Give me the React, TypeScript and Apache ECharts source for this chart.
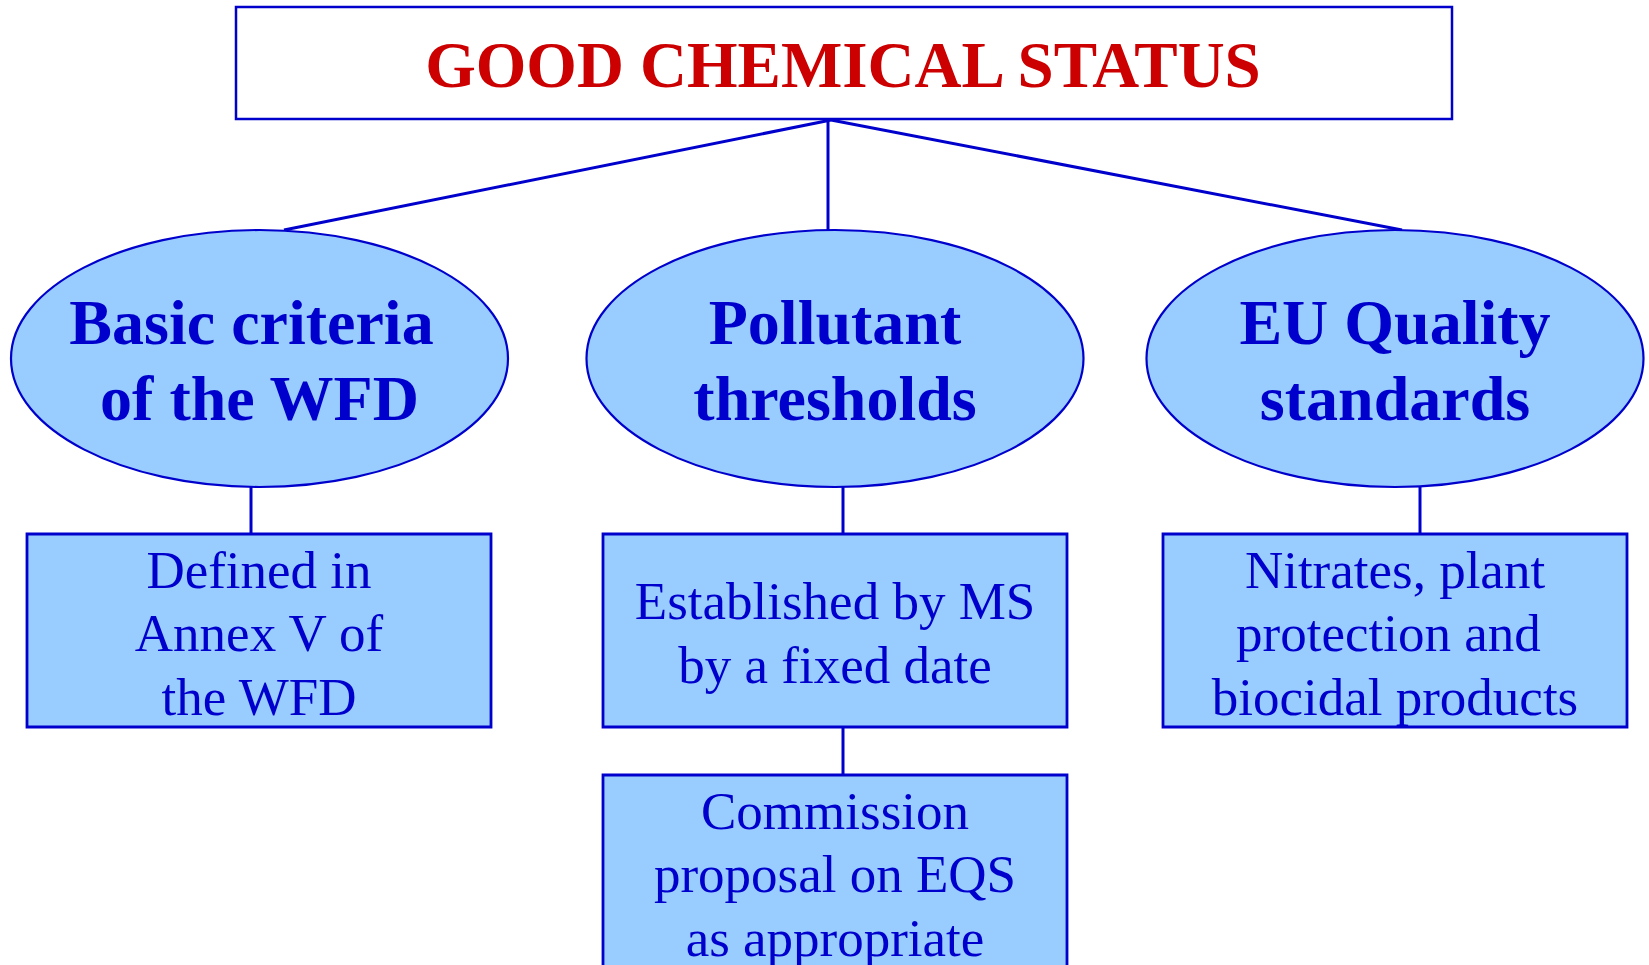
import React, { useEffect, useRef } from "react";
import * as echarts from "echarts";

const titleText = "GOOD CHEMICAL STATUS";
// trailing spaces are part of the original labels (they shift the centring)
const ellipseLabels = [
  ["Basic criteria ", "of the WFD"],
  ["Pollutant", "thresholds"],
  ["EU Quality", "standards"],
];
const boxLabels = [
  ["Defined in", "Annex V of", "the WFD"],
  ["Established by MS", "by a fixed date"],
  ["Nitrates, plant", "protection and ", "biocidal products"],
];
const subBoxLabel = ["Commission", "proposal on EQS", "as appropriate"];

const BLUE = "#0000CC";
const FILL = "#99CCFF";
const RED = "#CC0000";
const FONT = "'Liberation Serif', 'Times New Roman', serif";

function lineTexts(
  lines: string[],
  cx: number,
  cy: number,
  lineHeight: number,
  fontSize: number,
  bold: boolean
) {
  const n = lines.length;
  return lines.map((raw, k) => {
    const trimmed = raw.replace(/\s+$/, "");
    const trailing = raw.length - trimmed.length;
    return {
      type: "text",
      x: cx - (trailing * 0.25 * fontSize) / 2,
      y: cy + (k - (n - 1) / 2) * lineHeight,
      style: {
        text: trimmed,
        fill: BLUE,
        font: `${bold ? "bold " : ""}${fontSize}px ${FONT}`,
        textAlign: "center",
        textVerticalAlign: "middle",
      },
      z: 3,
    };
  });
}

export default function App() {
  const ref = useRef<HTMLDivElement>(null);
  useEffect(() => {
    document.body.style.margin = "0";
    const chart = echarts.init(ref.current!, null, { renderer: "svg" });

    const ellipseCx = [259.5, 835, 1395];
    const ellipseCy = 358.5;
    const rx = 248.5;
    const ry = 128.5;
    const boxX = [27, 603, 1163];
    const boxW = 464;
    const boxY = 534;
    const boxH = 193;
    const connX = [251, 843, 1420];
    const topAnchor = [831, 120];
    const ellipseTops = [[284, 230], [1402, 230]];

    const elements: any[] = [];

    ellipseTops.forEach((p) => {
      elements.push({
        type: "line",
        shape: { x1: topAnchor[0], y1: topAnchor[1], x2: p[0], y2: p[1] },
        style: { stroke: BLUE, lineWidth: 3 },
        z: 1,
      });
    });
    elements.push({
      type: "line",
      shape: { x1: 828, y1: 118, x2: 828, y2: 230 },
      style: { stroke: BLUE, lineWidth: 3 },
      z: 1,
    });
    elements.push({
      type: "rect",
      shape: { x: 236, y: 7, width: 1216, height: 112 },
      style: { fill: "#fff", stroke: BLUE, lineWidth: 2.5 },
      z: 2,
    });
    elements.push({
      type: "text",
      x: 843,
      y: 65,
      style: {
        text: titleText,
        fill: RED,
        font: `bold 65px ${FONT}`,
        textAlign: "center",
        textVerticalAlign: "middle",
      },
      z: 3,
    });

    ellipseLabels.forEach((label, i) => {
      elements.push({
        type: "line",
        shape: { x1: connX[i], y1: ellipseCy + ry, x2: connX[i], y2: boxY },
        style: { stroke: BLUE, lineWidth: 3 },
        z: 1,
      });
      elements.push({
        type: "ellipse",
        shape: { cx: ellipseCx[i], cy: ellipseCy, rx, ry },
        style: { fill: FILL, stroke: BLUE, lineWidth: 2.2 },
        z: 2,
      });
      elements.push(...lineTexts(label, ellipseCx[i], 360, 76, 64, true));
      elements.push({
        type: "rect",
        shape: { x: boxX[i], y: boxY, width: boxW, height: boxH },
        style: { fill: FILL, stroke: BLUE, lineWidth: 2.8 },
        z: 2,
      });
      const n = boxLabels[i].length;
      elements.push(
        ...lineTexts(boxLabels[i], boxX[i] + boxW / 2, n === 3 ? 633 : 633, 63.5, 53, false)
      );
    });

    elements.push({
      type: "line",
      shape: { x1: 843, y1: boxY + boxH, x2: 843, y2: 775 },
      style: { stroke: BLUE, lineWidth: 3 },
      z: 1,
    });
    elements.push({
      type: "rect",
      shape: { x: 603, y: 775, width: boxW, height: 220 },
      style: { fill: FILL, stroke: BLUE, lineWidth: 2.8 },
      z: 2,
    });
    elements.push(...lineTexts(subBoxLabel, 835, 874, 63.5, 53, false));

    chart.setOption({
      animation: false,
      backgroundColor: "#ffffff",
      graphic: { elements },
    });
    return () => chart.dispose();
  }, []);
  return <div ref={ref} style={{ width: 1649, height: 965 }} />;
}
